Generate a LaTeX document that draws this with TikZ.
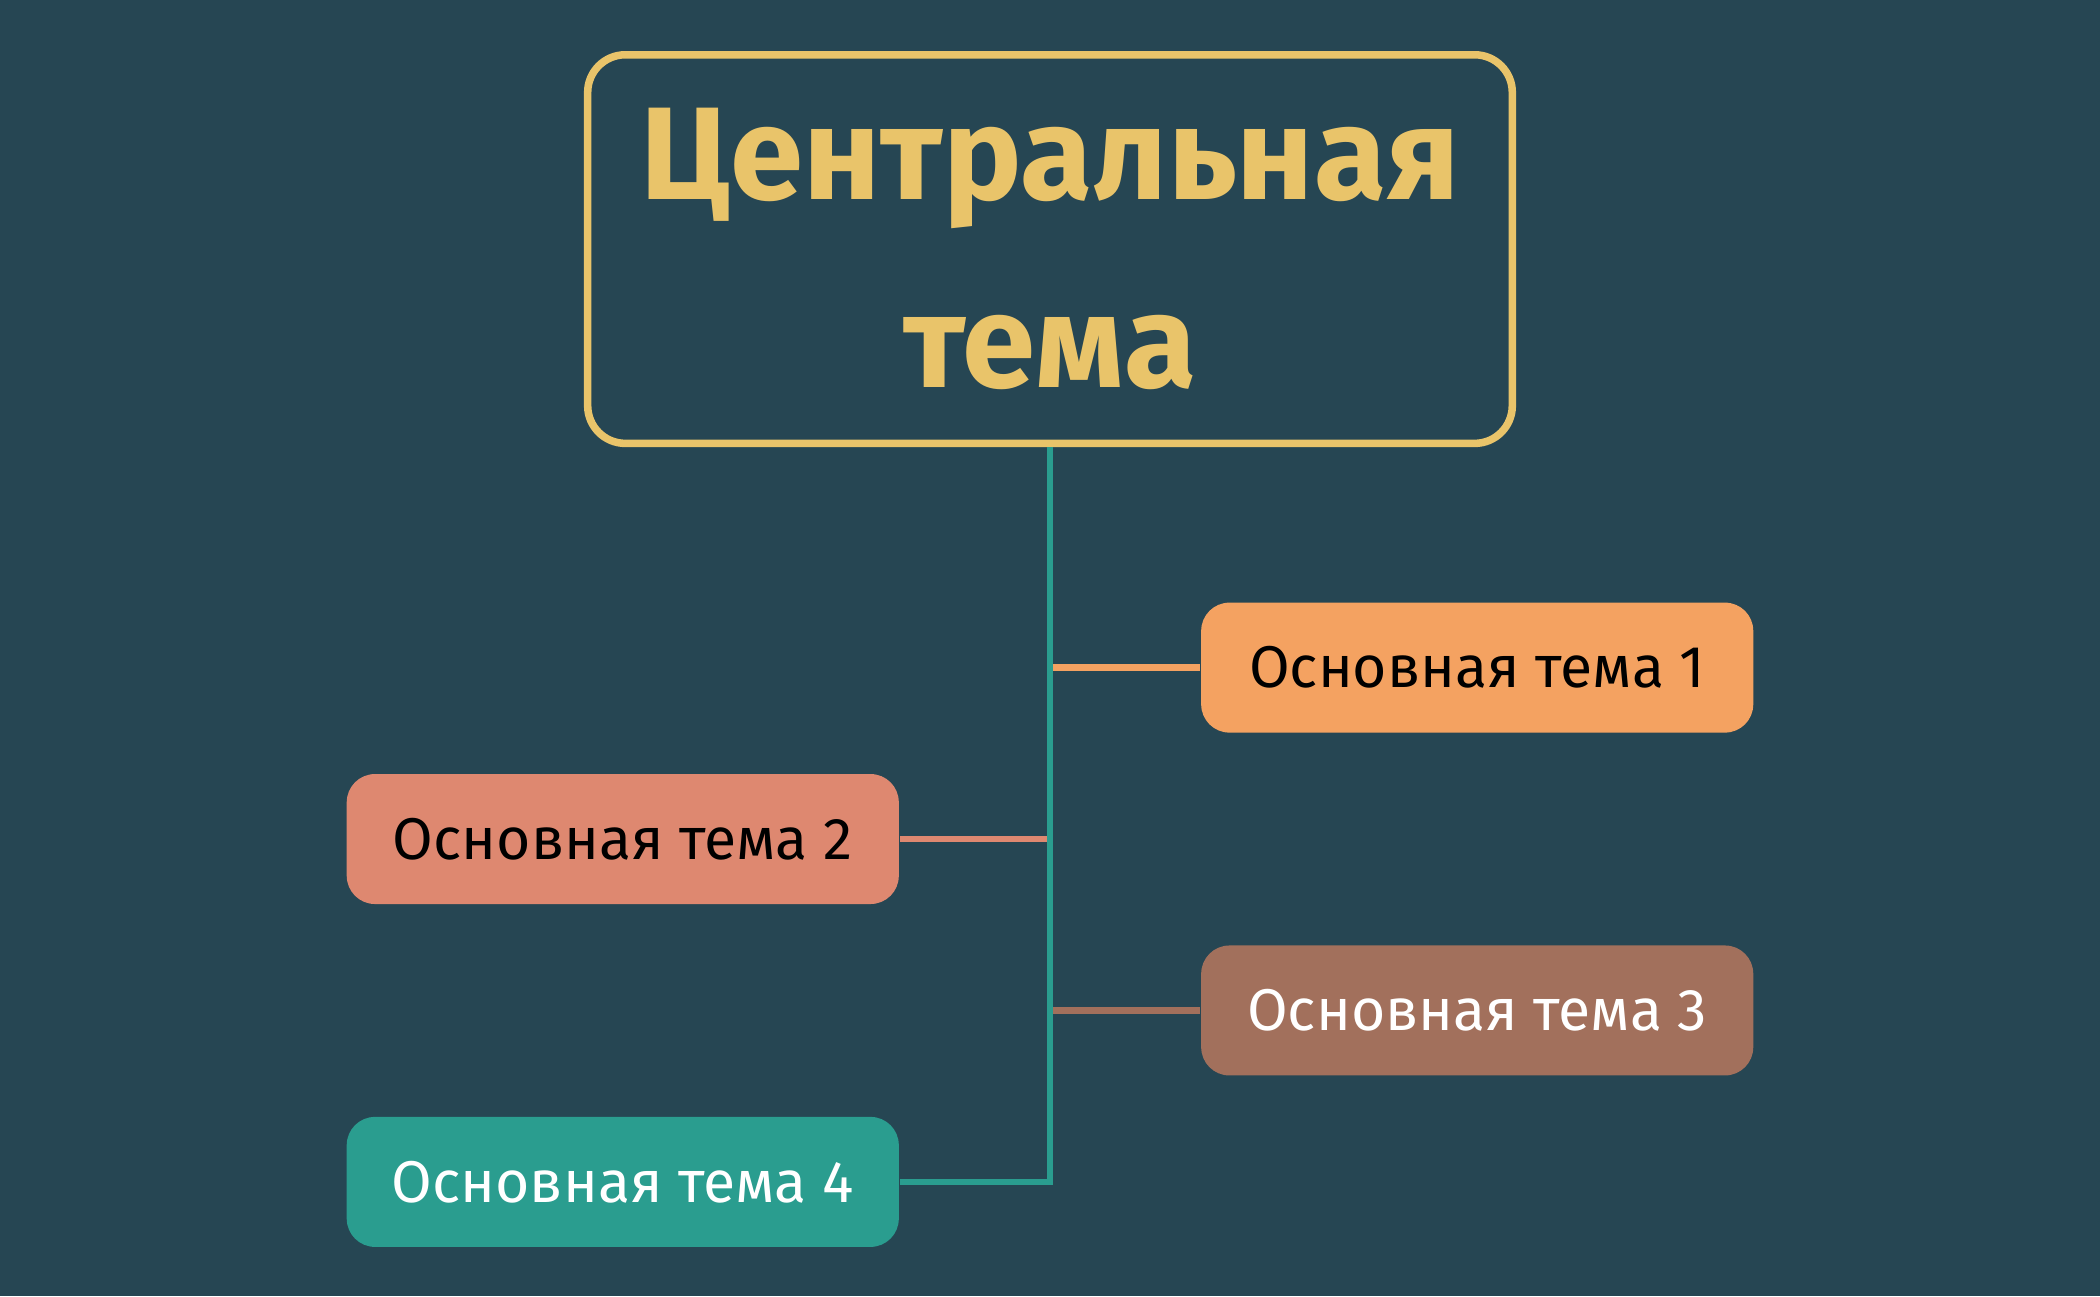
\documentclass[tikz,border=0pt]{standalone}
\usepackage{fontspec}
\setmainfont{Fira Sans}
\usetikzlibrary{positioning}
\definecolor{bgcol}{HTML}{264653}
\definecolor{gold}{HTML}{E9C46A}
\definecolor{orangecol}{HTML}{F4A261}
\definecolor{salmoncol}{HTML}{DE8870}
\definecolor{browncol}{HTML}{A2705C}
\definecolor{tealcol}{HTML}{2A9D8F}
\tikzset{
  centralbox/.style={draw=gold, line width=1.6pt, rounded corners=8pt, minimum width=6.9cm, minimum height=2.9cm, align=center, text=gold, font=\fontsize{28}{40}\selectfont\bfseries},
  topicbox/.style={rounded corners=6pt, minimum width=4.12cm, minimum height=0.97cm, font=\fontsize{12.5}{14}\selectfont\mdseries},
  branch/.style={line width=1.4pt}
}
\begin{document}
\begin{tikzpicture}[x=0.01cm, y=-0.01cm]
            \fill[bgcol] (0,0) rectangle (1568,968);
            \useasboundingbox (0,0) rectangle (1568,968);
            \node[centralbox] (central) at (784,186) {Центральная\\тема};
            \node[topicbox, fill=orangecol, text=black] (t1) at (1103,498.5) {Основная тема 1};
            \node[topicbox, fill=salmoncol, text=black] (t2) at (465,626.5) {Основная тема 2};
            \node[topicbox, fill=browncol, text=white] (t3) at (1103,754.5) {Основная тема 3};
            \node[topicbox, fill=tealcol, text=white] (t4) at (465,882.5) {Основная тема 4};
            \coordinate (corner) at (784,882.5);
            \draw[branch, orangecol] (t1.west) -- (t1.west -| central.south);
            \draw[branch, salmoncol] (t2.east) -- (t2.east -| central.south);
            \draw[branch, browncol] (t3.west) -- (t3.west -| central.south);
            \draw[branch, tealcol] (central.south) -- (corner) -- (t4.east);
\end{tikzpicture}
\end{document}
